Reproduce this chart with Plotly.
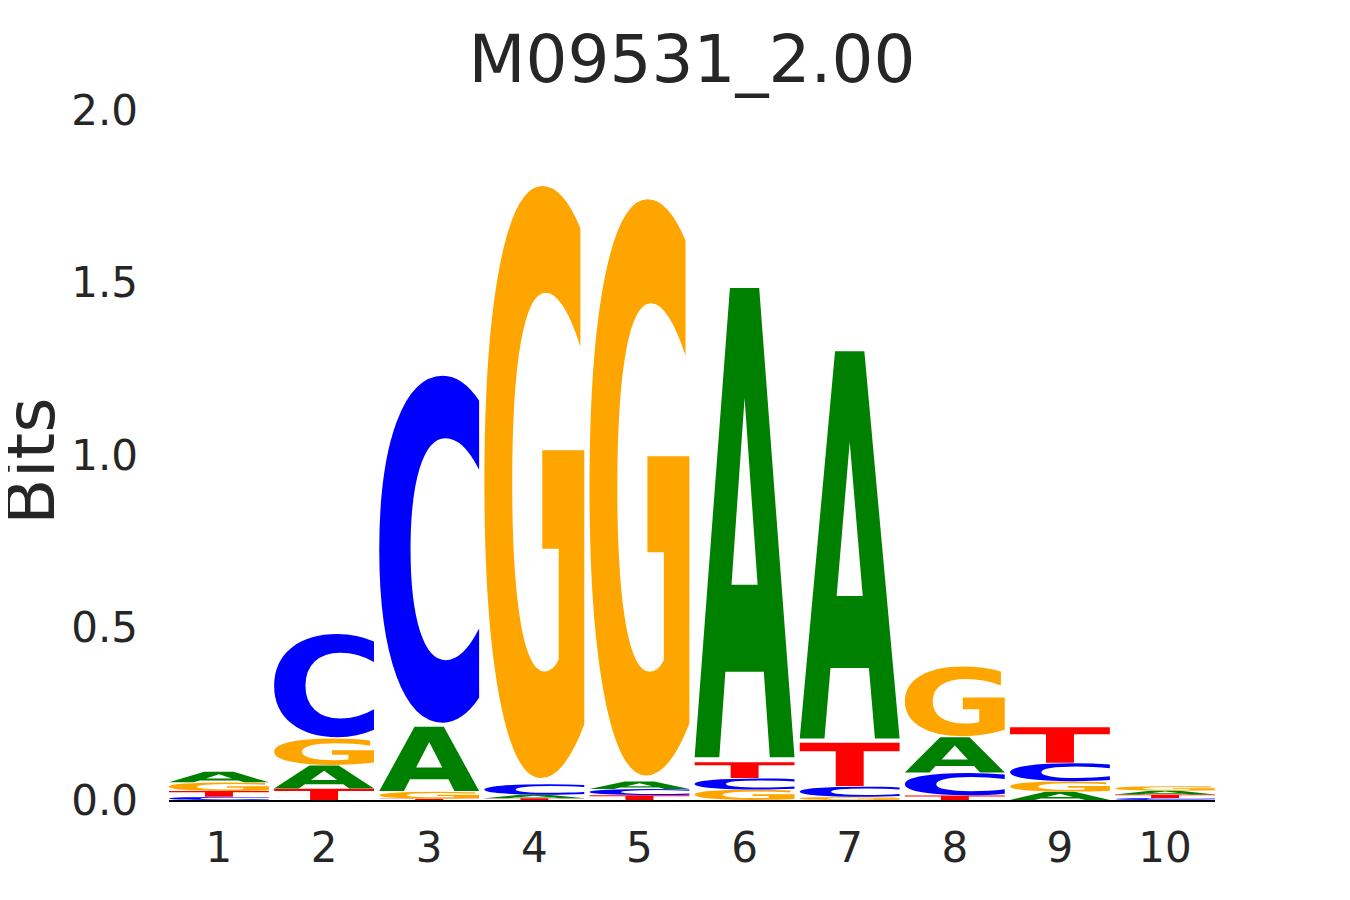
import glob
import struct
import math
import plotly.graph_objects as go

# ---------------- data (bits per letter at each position) ----------------
positions = [1, 2, 3, 4, 5, 6, 7, 8, 9, 10]
tick_labels = ["1", "2", "3", "4", "5", "6", "7", "8", "9", "10"]
bits_A = [0.031, 0.068, 0.190, 0.010, 0.022, 1.388, 1.145, 0.104, 0.024, 0.011]
bits_C = [0.009, 0.305, 1.026, 0.031, 0.018, 0.033, 0.030, 0.066, 0.053, 0.006]
bits_G = [0.025, 0.078, 0.020, 1.751, 1.704, 0.030, 0.009, 0.206, 0.030, 0.013]
bits_T = [0.017, 0.033, 0.004, 0.005, 0.014, 0.047, 0.128, 0.013, 0.105, 0.010]
y_ticks = [0.0, 0.5, 1.0, 1.5, 2.0]
y_tick_labels = ["0.0", "0.5", "1.0", "1.5", "2.0"]
title_text = "M09531_2.00"
y_title = "Bits"

colors = {"A": "#008000", "C": "#0000ff", "G": "#ffa500", "T": "#ff0000"}
LETTER_WIDTH = 0.95
VPAD = 0.01  # fraction of box height left empty above and below each glyph

# the page body has an 8px margin; size the figure so the plot lands where the reference has it
BODY = 8
FIG_W, FIG_H = 1350 - BODY, 900 - BODY


# ---------------- glyph outlines from the installed DejaVu Sans Bold ----------------
def find_font():
    for pat in ["/usr/share/fonts/**/DejaVuSans-Bold.ttf", "/usr/**/DejaVuSans-Bold.ttf"]:
        r = glob.glob(pat, recursive=True)
        if r:
            return r[0]
    return None


def load_glyphs(path, chars):
    data = open(path, "rb").read()
    num_tables = struct.unpack(">H", data[4:6])[0]
    tables = {}
    for i in range(num_tables):
        tag, _cs, off, ln = struct.unpack(">4sIII", data[12 + 16 * i:28 + 16 * i])
        tables[tag.decode("latin1")] = (off, ln)
    head = tables["head"][0]
    locfmt = struct.unpack(">h", data[head + 50:head + 52])[0]
    maxp = tables["maxp"][0]
    num_glyphs = struct.unpack(">H", data[maxp + 4:maxp + 6])[0]
    loca = tables["loca"][0]
    if locfmt == 0:
        offs = [struct.unpack(">H", data[loca + 2 * i:loca + 2 * i + 2])[0] * 2 for i in range(num_glyphs + 1)]
    else:
        offs = [struct.unpack(">I", data[loca + 4 * i:loca + 4 * i + 4])[0] for i in range(num_glyphs + 1)]
    cmap = tables["cmap"][0]
    n = struct.unpack(">H", data[cmap + 2:cmap + 4])[0]
    sub = None
    for i in range(n):
        pid, eid, off = struct.unpack(">HHI", data[cmap + 4 + 8 * i:cmap + 12 + 8 * i])
        fmt = struct.unpack(">H", data[cmap + off:cmap + off + 2])[0]
        if fmt == 4 and pid in (0, 3):
            sub = cmap + off
            break
    segx2 = struct.unpack(">H", data[sub + 6:sub + 8])[0]
    seg = segx2 // 2
    ends = struct.unpack(">%dH" % seg, data[sub + 14:sub + 14 + segx2])
    starts = struct.unpack(">%dH" % seg, data[sub + 16 + segx2:sub + 16 + 2 * segx2])
    deltas = struct.unpack(">%dh" % seg, data[sub + 16 + 2 * segx2:sub + 16 + 3 * segx2])
    roff_pos = sub + 16 + 3 * segx2
    roffs = struct.unpack(">%dH" % seg, data[roff_pos:roff_pos + segx2])

    def gid(ch):
        code = ord(ch)
        for i in range(seg):
            if starts[i] <= code <= ends[i]:
                if roffs[i] == 0:
                    return (code + deltas[i]) & 0xFFFF
                addr = roff_pos + 2 * i + roffs[i] + 2 * (code - starts[i])
                g = struct.unpack(">H", data[addr:addr + 2])[0]
                return (g + deltas[i]) & 0xFFFF if g else 0
        return 0

    glyf = tables["glyf"][0]
    out = {}
    for ch in chars:
        p = glyf + offs[gid(ch)]
        nc, xmin, ymin, xmax, ymax = struct.unpack(">hhhhh", data[p:p + 10])
        p += 10
        endpts = struct.unpack(">%dH" % nc, data[p:p + 2 * nc])
        p += 2 * nc
        il = struct.unpack(">H", data[p:p + 2])[0]
        p += 2 + il
        npts = endpts[-1] + 1
        flags = []
        while len(flags) < npts:
            f = data[p]
            p += 1
            flags.append(f)
            if f & 8:
                r = data[p]
                p += 1
                flags.extend([f] * r)
        xs, v = [], 0
        for f in flags:
            if f & 2:
                d = data[p]
                p += 1
                v += d if f & 16 else -d
            elif not (f & 16):
                v += struct.unpack(">h", data[p:p + 2])[0]
                p += 2
            xs.append(v)
        ys, v = [], 0
        for f in flags:
            if f & 4:
                d = data[p]
                p += 1
                v += d if f & 32 else -d
            elif not (f & 32):
                v += struct.unpack(">h", data[p:p + 2])[0]
                p += 2
            ys.append(v)
        contours, s = [], 0
        for e in endpts:
            contours.append([(xs[i], ys[i], bool(flags[i] & 1)) for i in range(s, e + 1)])
            s = e + 1
        out[ch] = (contours, (xmin, ymin, xmax, ymax))
    return out


def contour_cmds(pts):
    start = next((i for i, pt in enumerate(pts) if pt[2]), None)
    if start is None:
        m = ((pts[0][0] + pts[1][0]) / 2, (pts[0][1] + pts[1][1]) / 2, True)
        pts = [m] + pts[1:] + [pts[0]]
    else:
        pts = pts[start:] + pts[:start]
    cmds = [("M", (pts[0][0], pts[0][1]))]
    ctrl = None
    for x, y, on in pts[1:] + [pts[0]]:
        if on:
            if ctrl is None:
                cmds.append(("L", (x, y)))
            else:
                cmds.append(("Q", ctrl, (x, y)))
                ctrl = None
        else:
            if ctrl is not None:
                cmds.append(("Q", ctrl, ((ctrl[0] + x) / 2, (ctrl[1] + y) / 2)))
            ctrl = (x, y)
    if ctrl is not None:
        cmds.append(("Q", ctrl, (pts[0][0], pts[0][1])))
    cmds.append(("Z",))
    return cmds


def fallback_glyphs():
    def poly(points):
        c = [("M", points[0])] + [("L", q) for q in points[1:]] + [("Z",)]
        return c

    def ring(a0, a1, ro, ri, n=40):
        outer = [(0.5 + ro * math.cos(math.radians(a0 + (a1 - a0) * k / n)),
                  0.5 + ro * math.sin(math.radians(a0 + (a1 - a0) * k / n))) for k in range(n + 1)]
        inner = [(0.5 + ri * math.cos(math.radians(a1 - (a1 - a0) * k / n)),
                  0.5 + ri * math.sin(math.radians(a1 - (a1 - a0) * k / n))) for k in range(n + 1)]
        return poly(outer + inner)

    g = {
        "A": [poly([(0, 0), (0.38, 1), (0.62, 1), (1, 0), (0.72, 0), (0.65, 0.2), (0.35, 0.2), (0.28, 0)]),
              poly([(0.41, 0.38), (0.59, 0.38), (0.5, 0.68)])],
        "T": [poly([(0, 1), (1, 1), (1, 0.8), (0.64, 0.8), (0.64, 0), (0.36, 0), (0.36, 0.8), (0, 0.8)])],
        "C": [ring(40, 320, 0.5, 0.3)],
        "G": [ring(40, 360, 0.5, 0.3), poly([(0.55, 0.55), (1, 0.55), (1, 0.1), (0.8, 0.1), (0.8, 0.4), (0.55, 0.4)])],
    }
    return {k: (v, (0, 0, 1, 1)) for k, v in g.items()}


GLYPHS = {}
font_path = find_font()
try:
    if font_path is None:
        raise IOError
    raw = load_glyphs(font_path, "ACGT")
    for ch, (contours, bbox) in raw.items():
        GLYPHS[ch] = ([contour_cmds(c) for c in contours], bbox)
except Exception:
    GLYPHS = fallback_glyphs()


def glyph_path(ch, xc, y0, h):
    cmds_list, (xmin, ymin, xmax, ymax) = GLYPHS[ch]
    pad = h * VPAD
    yb, ht = y0 + pad, h - 2 * pad
    x0 = xc - LETTER_WIDTH / 2

    def tr(pt):
        return (x0 + (pt[0] - xmin) / (xmax - xmin) * LETTER_WIDTH,
                yb + (pt[1] - ymin) / (ymax - ymin) * ht)

    parts = []
    for cmds in cmds_list:
        for c in cmds:
            if c[0] in ("M", "L"):
                x, y = tr(c[1])
                parts.append("%s%.5f,%.6f" % (c[0], x, y))
            elif c[0] == "Q":
                cx, cy = tr(c[1])
                x, y = tr(c[2])
                parts.append("Q%.5f,%.6f %.5f,%.6f" % (cx, cy, x, y))
            else:
                parts.append("Z")
    return " ".join(parts)


# ---------------- figure ----------------
fig = go.Figure()
# invisible trace so the axes exist with their scales
fig.add_trace(go.Scatter(x=positions, y=[0] * len(positions), mode="markers",
                         marker=dict(opacity=0), hoverinfo="skip", showlegend=False))

shapes = []
for i, xpos in enumerate(positions):
    col = {"A": bits_A[i], "C": bits_C[i], "G": bits_G[i], "T": bits_T[i]}
    y = 0.0
    for ch, h in sorted(col.items(), key=lambda kv: kv[1]):
        if h <= 0:
            continue
        shapes.append(dict(type="path", xref="x", yref="y", path=glyph_path(ch, xpos, y, h),
                           fillcolor=colors[ch], line=dict(width=0), layer="above"))
        y += h

fig.update_layout(
    width=FIG_W, height=FIG_H,
    paper_bgcolor="white", plot_bgcolor="white",
    margin=dict(l=169 - BODY, r=135, t=110 - BODY, b=100),
    font=dict(family="DejaVu Sans", color="#262626"),
    title=dict(text=title_text, x=0.5, xref="paper", y=1 - (62 - BODY - 3) / FIG_H, yref="container",
               xanchor="center", yanchor="middle", font=dict(size=66, color="#262626")),
    shapes=shapes,
    showlegend=False,
    xaxis=dict(range=[0.525, 10.475], tickvals=positions, ticktext=tick_labels,
               showgrid=False, zeroline=False, showline=True, linecolor="black", linewidth=2,
               ticks="", ticklabelstandoff=10, tickfont=dict(size=42, color="#262626")),
    yaxis=dict(range=[0, 2], tickvals=y_ticks, ticktext=y_tick_labels,
               showgrid=False, zeroline=False, showline=False,
               ticks="", ticklabelstandoff=30, tickfont=dict(size=42, color="#262626")),
    annotations=[dict(text=y_title, textangle=-90, xref="paper", yref="paper",
                      x=(30 - 169) / 1046, y=0.5, xanchor="center", yanchor="middle", yshift=-6,
                      showarrow=False, font=dict(size=68, color="#262626"))],
)

fig.write_html("out.html")
